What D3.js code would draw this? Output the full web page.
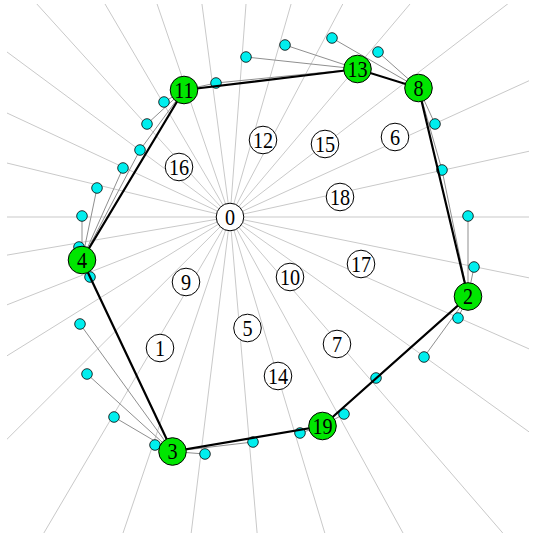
<!DOCTYPE html>
<html>
<head>
<meta charset="utf-8">
<script src="https://cdn.jsdelivr.net/npm/d3@7"></script>
<style>
  html, body { margin: 0; padding: 0; background: #fff; }
  svg { display: block; }
  .lbl { font-family: "Liberation Serif", "Times New Roman", serif; font-size: 23.5px; fill: #000; }
</style>
</head>
<body>
<svg id="chart" width="536" height="540"></svg>
<script>
// Hub node "0" sits at the layout origin.
const hubId = "0";

// Route (depot) nodes, in tour order, with layout coordinates.
const routeIds = ["11", "13", "8", "2", "19", "3", "4"];
const routeX   = [-0.46, 1.275, 1.885, 2.38, 0.925, -0.575, -1.48];
const routeY   = [1.27, 1.48, 1.29, -0.795, -2.09, -2.345, -0.43];

// Inner (labelled, unrouted) nodes.
const innerIds = ["12", "15", "6", "16", "18", "17", "10", "9", "5", "7", "1", "14"];
const innerX   = [0.33, 0.95, 1.65, -0.51, 1.10, 1.31, 0.60, -0.44, 0.175, 1.07, -0.70, 0.48];
const innerY   = [0.77, 0.73, 0.80, 0.50, 0.20, -0.47, -0.60, -0.65, -1.11, -1.27, -1.31, -1.59];

// Satellite (customer) nodes and the route node each one is attached to.
const satX = [0.16, -0.14, -0.66, -0.83, -0.90, -1.07, -1.33, -1.48, -1.51, 0.55, 1.02, 1.48, 2.05, 2.12,
              2.38, 2.44, -1.40, -1.50, -1.43, -1.16, -0.75, -0.25, 0.23, 2.28, 1.94, 1.46, 1.14, 0.70];
const satY = [1.60, 1.34, 1.15, 0.93, 0.67, 0.49, 0.29, 0.01, -0.30, 1.72, 1.79, 1.65, 0.93, 0.47,
              0.01, -0.50, -0.60, -1.07, -1.57, -2.00, -2.28, -2.37, -2.25, -1.01, -1.40, -1.61, -1.97, -2.16];
const satHub = ["13", "13", "11", "11", "11", "4", "4", "4", "4", "13", "8", "8", "8", "2",
                "2", "2", "4", "3", "3", "3", "3", "3", "3", "2", "2", "19", "19", "19"];
// Extra attachments for satellites that lie between two route nodes.
const extraLinkSat = [4, 13, 25, 1];
const extraLinkHub = ["4", "8", "2", "11"];

// Spokes leaving the hub, as directions in degrees (counter-clockwise from east).
const spokeAngles = [132.2, 120.4, 108.9, 97.5, 85.7, 74.0, 62.1, 49.8, 37.5, 24.5, 12.4, 0,
                     -11.5, -23.8, -35.7, -49.2, -61.3, -73.3, -85.1, -97.0, -108.7, -120.5,
                     -135.1, -148.1, -158.5, -170.3, 180, 166.4, 155.0, 143.5];

const W = 536, H = 540;
const svg = d3.select("#chart");

const x = d3.scaleLinear().domain([-2.3, 3.06]).range([0, W]);
const y = d3.scaleLinear().domain([2.17, -3.23]).range([0, H]);

const route = routeIds.map((id, i) => ({ id, x: routeX[i], y: routeY[i] }));
const inner = innerIds.map((id, i) => ({ id, x: innerX[i], y: innerY[i] }));
const routeById = new Map(route.map(d => [d.id, d]));
const sats = satX.map((v, i) => ({ x: v, y: satY[i], hub: satHub[i] }));
const hub = { id: hubId, x: 0, y: 0 };

// Clip for the spokes
svg.append("defs").append("clipPath").attr("id", "spokeClip")
  .append("rect").attr("x", 7).attr("y", 4).attr("width", 522).attr("height", 529);

// Spokes from the hub
const spokeLen = 8;
svg.append("g").attr("clip-path", "url(#spokeClip)")
  .selectAll("line").data(spokeAngles).join("line")
  .attr("x1", x(0)).attr("y1", y(0))
  .attr("x2", a => x(spokeLen * Math.cos(a * Math.PI / 180)))
  .attr("y2", a => y(spokeLen * Math.sin(a * Math.PI / 180)))
  .attr("stroke", "#c9c9c9").attr("stroke-width", 1);

// Satellite attachments
const links = sats.map(s => ({ s, t: routeById.get(s.hub) }))
  .concat(extraLinkSat.map((si, i) => ({ s: sats[si], t: routeById.get(extraLinkHub[i]) })));
svg.append("g").selectAll("line").data(links).join("line")
  .attr("x1", d => x(d.s.x)).attr("y1", d => y(d.s.y))
  .attr("x2", d => x(d.t.x)).attr("y2", d => y(d.t.y))
  .attr("stroke", "#8f8f8f").attr("stroke-width", 1);

// Satellite nodes
svg.append("g").selectAll("circle").data(sats).join("circle")
  .attr("cx", d => x(d.x)).attr("cy", d => y(d.y)).attr("r", 5.3)
  .attr("fill", "#00eeee").attr("stroke", "#000").attr("stroke-width", 0.8);

// Closed tour through the route nodes
const tour = route.concat([route[0]]);
svg.append("path")
  .attr("d", d3.line().x(d => x(d.x)).y(d => y(d.y))(tour))
  .attr("fill", "none").attr("stroke", "#000").attr("stroke-width", 2.2);

function drawNodes(data, fill) {
  const g = svg.append("g").selectAll("g").data(data).join("g")
    .attr("transform", d => `translate(${x(d.x)},${y(d.y)})`);
  g.append("circle").attr("r", 13.8)
    .attr("fill", fill).attr("stroke", "#000").attr("stroke-width", 1);
  g.append("text").attr("class", "lbl")
    .attr("text-anchor", "middle").attr("dy", "0.34em")
    .attr("transform", "scale(0.86,1)")
    .text(d => d.id);
}

drawNodes([hub].concat(inner), "#ffffff");
drawNodes(route, "#00e600");
</script>
</body>
</html>
